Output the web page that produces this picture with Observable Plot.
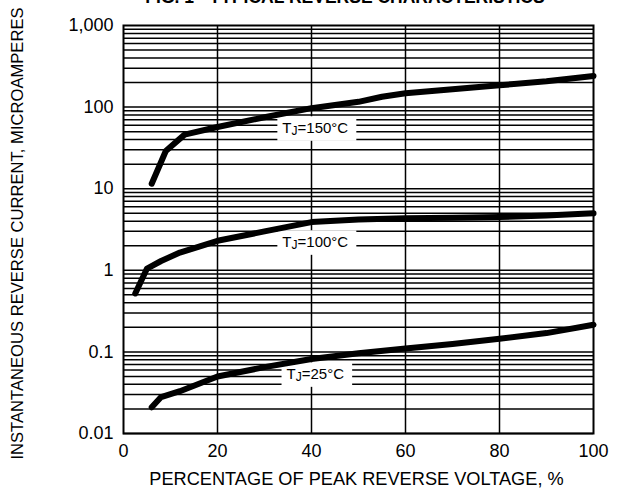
<!DOCTYPE html>
<html>
<head>
<meta charset="utf-8">
<script src="https://cdn.jsdelivr.net/npm/d3@7"></script>
<script src="https://cdn.jsdelivr.net/npm/@observablehq/plot@0.6"></script>
<style>
  html, body { margin: 0; padding: 0; background: #fff; }
  #wrap { position: relative; width: 626px; height: 490px; overflow: hidden; }
  #title { position: absolute; left: 0; width: 690px; text-align: center; top: -13px;
           font: bold 17.5px "Liberation Sans", Arial, sans-serif; color: #000; white-space: nowrap; }
  #chart { position: absolute; left: 0; top: 0; }
</style>
</head>
<body>
<div id="wrap">
  <div id="chart"></div>
  <div id="title">FIG. 1 - TYPICAL REVERSE CHARACTERISTICS</div>
</div>
<script>
// ---- data ----
const seriesNames = ["TJ=150°C", "TJ=100°C", "TJ=25°C"];
const pct150 = [6, 9, 13, 20, 30, 40, 50, 55, 60, 70, 80, 90, 100];
const cur150 = [11.5, 29, 46, 57, 75, 97, 116, 134, 148, 165, 185, 207, 240];
const pct100 = [2.5, 5, 8, 12, 20, 30, 40, 50, 60, 70, 80, 90, 100];
const cur100 = [0.52, 1.05, 1.3, 1.65, 2.3, 3.0, 3.9, 4.2, 4.35, 4.4, 4.5, 4.7, 5.0];
const pct25 = [6, 8, 12, 20, 30, 40, 50, 60, 70, 80, 90, 100];
const cur25 = [0.021, 0.028, 0.033, 0.050, 0.065, 0.082, 0.096, 0.11, 0.125, 0.145, 0.17, 0.215];
const labelX = [40.8, 40.8, 40.8];
const labelY = [54.7, 2.19, 0.0528];
const yTicks = [0.01, 0.1, 1, 10, 100, 1000];
const xTicks = [0, 20, 40, 60, 80, 100];
const xGrid = [20, 40, 60, 80];
const decades = [0.01, 0.1, 1, 10, 100];
const mults = [1, 2, 3, 4, 5, 6, 7, 8, 9];
const xTitle = "PERCENTAGE OF PEAK REVERSE VOLTAGE, %";
const yTitle = "INSTANTANEOUS REVERSE CURRENT, MICROAMPERES";

// ---- build tables ----
const curves = [];
[[pct150, cur150], [pct100, cur100], [pct25, cur25]].forEach(([xs, ys], i) => {
  xs.forEach((x, j) => curves.push({ series: seriesNames[i], x, y: ys[j] }));
});
const yGrid = [];
decades.forEach(d => mults.forEach(m => yGrid.push(+(d * m).toPrecision(3))));
const labels = seriesNames.map((s, i) => ({ text: s, x: labelX[i], y: labelY[i] }));

const font = '"Liberation Sans", Arial, sans-serif';

const chart = Plot.plot({
  width: 626,
  height: 490,
  marginLeft: 123,
  marginRight: 33,
  marginTop: 25,
  marginBottom: 57,
  style: { fontFamily: font, fontSize: "16px", color: "#000", background: "#fff" },
  x: { domain: [0, 100] },
  y: { type: "log", domain: [0.01, 1000] },
  marks: [
    Plot.ruleY(yGrid, { y: d => d, stroke: "#000", strokeWidth: 1.5 }),
    Plot.ruleX(xGrid, { x: d => d, stroke: "#000", strokeWidth: 1.5 }),
    Plot.text(labels, { x: "x", y: "y", text: "text", fontSize: 15, fill: "#000", className: "curve-label" }),
    Plot.line(curves, { x: "x", y: "y", z: "series", stroke: "#000", strokeWidth: 6, strokeLinecap: "round", strokeLinejoin: "round" }),
    Plot.frame({ stroke: "#000", strokeWidth: 2 }),
    Plot.axisY({ ticks: yTicks, tickFormat: d3.format(","), tickSize: 0, tickPadding: 10, fontSize: 18, label: null }),
    Plot.axisX({ ticks: xTicks, tickSize: 0, tickPadding: 11, fontSize: 18, label: null }),
    Plot.text([yTitle], { text: d => d, frameAnchor: "left", textAnchor: "middle", lineAnchor: "middle", rotate: -90, dx: -106, dy: 4, fontSize: 16.6, fill: "#000" }),
    Plot.text([xTitle], { text: d => d, frameAnchor: "bottom", textAnchor: "middle", lineAnchor: "middle", dy: 46, dx: -2, fontSize: 18.2, fill: "#000" })
  ]
});
document.getElementById("chart").appendChild(chart);

// white label boxes and subscript J
const lg = chart.querySelector("g.curve-label") || chart.querySelector(".curve-label");
if (lg) {
  const texts = lg.tagName.toLowerCase() === "g" ? lg.querySelectorAll("text") : [lg];
  texts.forEach(t => {
    const s = t.textContent;
    const k = s.indexOf("J");
    t.textContent = "";
    const ns = "http://www.w3.org/2000/svg";
    const a = document.createElementNS(ns, "tspan"); a.textContent = s.slice(0, k);
    const b = document.createElementNS(ns, "tspan"); b.textContent = "J"; b.setAttribute("font-size", "12"); b.setAttribute("dy", "1.5");
    const c = document.createElementNS(ns, "tspan"); c.textContent = s.slice(k + 1); c.setAttribute("dy", "-1.5");
    t.append(a, b, c);
    const bb = t.getBBox();
    const r = document.createElementNS(ns, "rect");
    r.setAttribute("x", bb.x - 5); r.setAttribute("y", bb.y - 3);
    r.setAttribute("width", bb.width + 13); r.setAttribute("height", bb.height + 6);
    r.setAttribute("fill", "#fff");
    if (t.getAttribute("transform")) r.setAttribute("transform", t.getAttribute("transform"));
    t.parentNode.insertBefore(r, t);
  });
}
</script>
</body>
</html>
